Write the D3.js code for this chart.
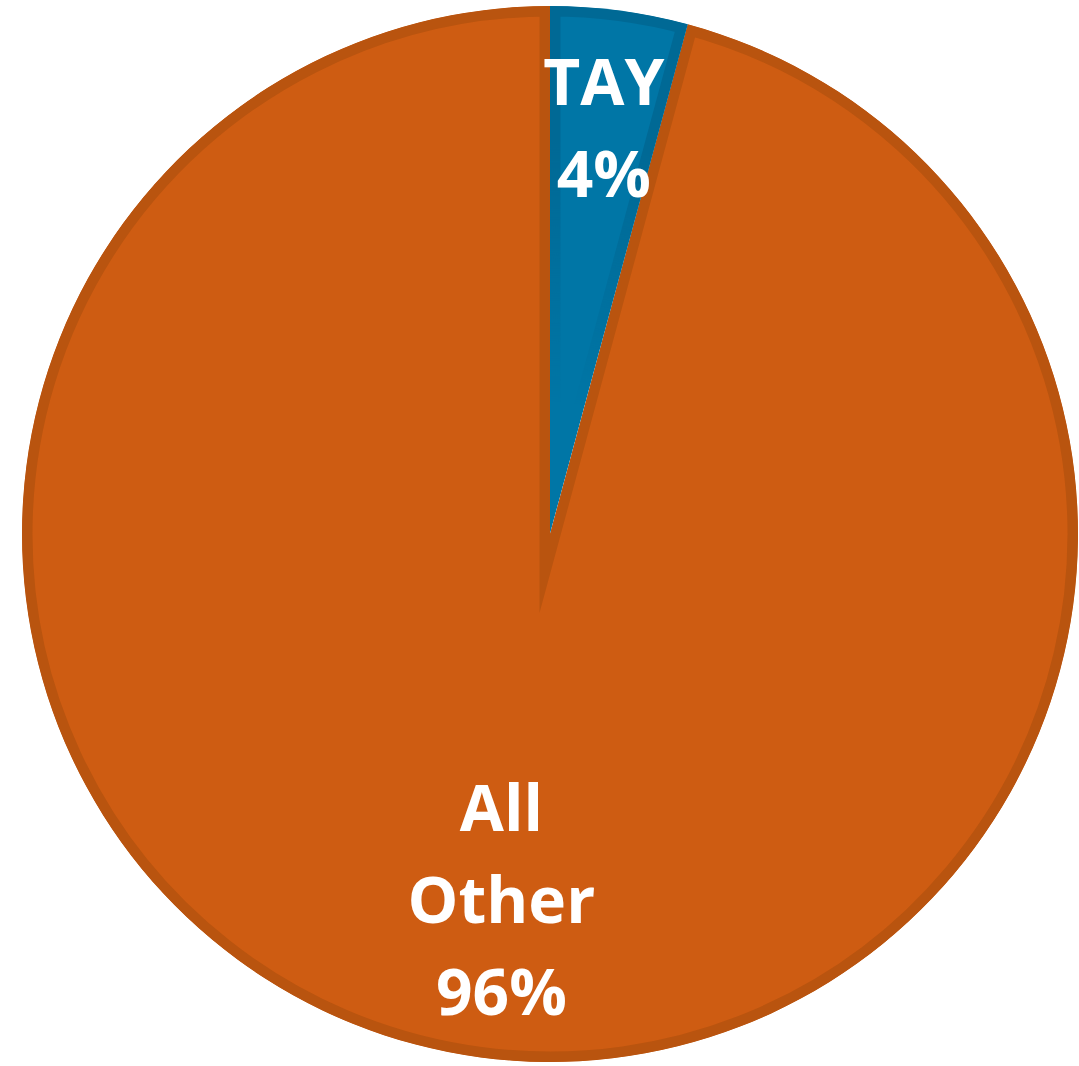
<!DOCTYPE html>
<html>
<head>
<meta charset="utf-8">
<script src="https://cdn.jsdelivr.net/npm/d3@7"></script>
<style>
  html, body { margin: 0; padding: 0; background: #ffffff; }
  svg { display: block; }
</style>
</head>
<body>
<svg id="chart" width="1079" height="1066"></svg>
<script>
// ---- data ----
const categories = ["TAY", "All Other"];
const values = [4.2, 95.8];
const percentLabels = ["4%", "96%"];
const labelLines = [["TAY"], ["All", "Other"]];
const fillColors = ["#0076A6", "#CE5C12"];
const edgeColors = ["#006995", "#B9540F"];

// ---- layout ----
const W = 1079, H = 1066;
const cx = 550, cy = 534, R = 528;
const band = 21;          // edge band (half of it visible inside each slice)
const fontSize = 64;
const lineH = 92;
const labelRadiusFrac = [0.775, 0.70];

const svg = d3.select("#chart");
const g = svg.append("g").attr("transform", `translate(${cx},${cy})`);

const pie = d3.pie().sort(null).value(d => d.value).startAngle(0).endAngle(2 * Math.PI);
const data = categories.map((c, i) => ({ name: c, value: values[i], idx: i }));
const arcs = pie(data);
const arc = d3.arc().innerRadius(0).outerRadius(R);

const defs = svg.append("defs");
arcs.forEach((a, i) => {
  defs.append("clipPath").attr("id", "clip" + i)
    .append("path").attr("d", arc(a));
});

// radial fade for the small slice's edge band (plain near the tip)
const rg = defs.append("radialGradient").attr("id", "fade")
  .attr("gradientUnits", "userSpaceOnUse")
  .attr("cx", 0).attr("cy", 0).attr("r", R);
rg.append("stop").attr("offset", 0).attr("stop-color", "#fff").attr("stop-opacity", 0);
rg.append("stop").attr("offset", 0.25).attr("stop-color", "#fff").attr("stop-opacity", 0);
rg.append("stop").attr("offset", 0.75).attr("stop-color", "#fff").attr("stop-opacity", 1);
rg.append("stop").attr("offset", 1).attr("stop-color", "#fff").attr("stop-opacity", 1);
defs.append("mask").attr("id", "fadeMask")
  .attr("maskUnits", "userSpaceOnUse")
  .attr("x", -R - 50).attr("y", -R - 50).attr("width", 2 * R + 100).attr("height", 2 * R + 100)
  .append("rect")
  .attr("x", -R - 50).attr("y", -R - 50).attr("width", 2 * R + 100).attr("height", 2 * R + 100)
  .attr("fill", "url(#fade)");

// draw larger slice first, then small one
const order = [1, 0];
order.forEach(i => {
  const a = arcs[i];
  const sg = g.append("g").attr("clip-path", `url(#clip${i})`);
  sg.append("path")
    .attr("d", arc(a))
    .attr("fill", fillColors[i]);
  const st = sg.append("path")
    .attr("d", arc(a))
    .attr("fill", "none")
    .attr("stroke", edgeColors[i])
    .attr("stroke-width", band)
    .attr("stroke-linejoin", "miter")
    .attr("stroke-miterlimit", 12);
  if (i === 0) st.attr("mask", "url(#fadeMask)");
});

// labels
arcs.forEach((a, i) => {
  const lr = R * labelRadiusFrac[i];
  const c = d3.arc().innerRadius(lr).outerRadius(lr).centroid(a);
  const lines = labelLines[i].concat([percentLabels[i]]);
  const n = lines.length;
  const t = g.append("text")
    .attr("text-anchor", "middle")
    .attr("fill", "#ffffff")
    .attr("font-family", "'Open Sans', 'Noto Sans', sans-serif")
    .attr("font-weight", 700)
    .attr("font-size", fontSize);
  lines.forEach((ln, k) => {
    t.append("tspan")
      .attr("x", c[0])
      .attr("y", c[1] + (k - (n - 1) / 2) * lineH)
      .attr("dy", "0.35em")
      .text(ln);
  });
});
</script>
</body>
</html>
